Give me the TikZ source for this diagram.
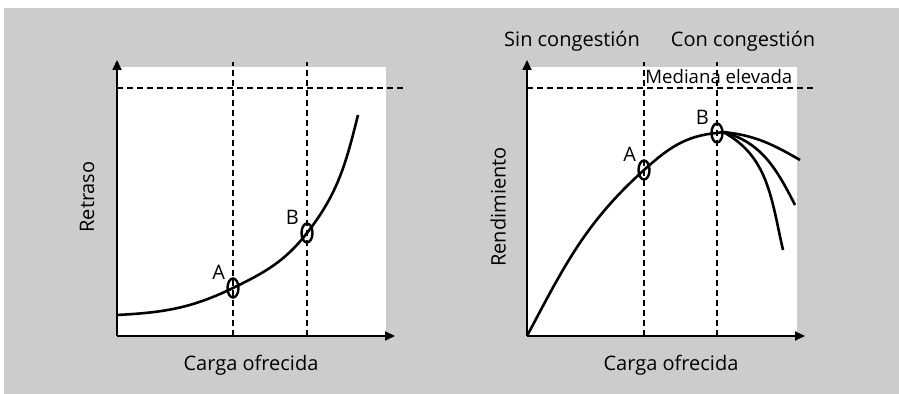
\documentclass[tikz,border=0pt]{standalone}
\usepackage{fontspec}
\setmainfont{Open Sans}
\usetikzlibrary{shapes.geometric}
\usetikzlibrary{arrows.meta}
\definecolor{fondo}{HTML}{CCCCCC}

\begin{document}
\begin{tikzpicture}[x=0.5pt, y=0.5pt, >={Triangle[length=5pt, width=4.5pt]}, font=\fontsize{10}{12}\selectfont,
	punto/.style={ellipse, draw, line width=1.2pt, minimum width=5.5pt, minimum height=9.5pt, inner sep=0pt},
	guia/.style={line width=0.6pt, dash pattern=on 3pt off 2pt},
	curva/.style={line width=1.3pt},
	eje/.style={line width=0.9pt, ->}]
	\useasboundingbox (0,0) rectangle (899,394);
	\fill[fondo] (4,0) rectangle (899,386);
	\fill[white] (117,58) rectangle (386,327);
	\fill[white] (527,58) rectangle (797,327);
	\path (117,58) coordinate(o1)
		(117,334) coordinate(y1)
		(395,58) coordinate(x1)
		(117,306) coordinate(h1)
		(403,306) coordinate(k1)
		(117,79) coordinate(s1)
		(358,279) coordinate(f1)
		(233,106) node(A1)[punto, label={[inner sep=1pt]above left:A}]{}
		(307,161) node(B1)[punto, label={[inner sep=1pt]above left:B}]{}
		(233,332) coordinate(ta1)
		(307,332) coordinate(tb1);
	\path (527,58) coordinate(o2)
		(527,334) coordinate(y2)
		(805,58) coordinate(x2)
		(527,306) coordinate(h2)
		(813,306) coordinate(k2)
		(723,262) coordinate(c2)
		(800,234) coordinate(r1)
		(795,189) coordinate(r2)
		(783,144) coordinate(r3)
		(644,224) node(A2)[punto, label={[inner sep=1pt]above left:A}]{}
		(717,261) node(B2)[punto, label={[inner sep=1pt]above left:B}]{}
		(644,332) coordinate(ta2)
		(717,332) coordinate(tb2);
	\draw[guia] (h1) -- (k1);
	\draw[guia] (A1 |- o1) -- (ta1);
	\draw[guia] (B1 |- o1) -- (tb1);
	\draw[guia] (h2) -- (k2);
	\draw[guia] (A2 |- o2) -- (ta2);
	\draw[guia] (B2 |- o2) -- (tb2);
	\draw[eje] (o1) -- (y1);
	\draw[eje] (o1) -- (x1);
	\draw[eje] (o2) -- (y2);
	\draw[eje] (o2) -- (x2);
	\draw[curva] (s1) to[out=3,in=206] (A1.center) to[out=26,in=232] (B1.center) to[out=52,in=256] (f1);
	\draw[curva] (o2) to[out=62,in=222] (A2.center) to[out=42,in=185] (B2.center) to[out=5,in=180] (c2);
	\draw[curva] (c2) to[out=-6,in=150] (r1);
	\draw[curva] (c2) to[out=-15,in=117] (r2);
	\draw[curva] (c2) to[out=-28,in=103] (r3);
	\path (87,197) node(ret)[rotate=90]{Retraso}
		(251,29) node(cx1){Carga ofrecida}
		(498,187) node(ren)[rotate=90]{Rendimiento}
		(671,29) node(cx2){Carga ofrecida}
		(572,353) node(sin){Sin congestión}
		(743,353) node(con){Con congestión}
		(645,317) node(med)[anchor=west, inner sep=0pt, font=\fontsize{9.3}{11}\selectfont]{Mediana elevada};
\end{tikzpicture}
\end{document}
